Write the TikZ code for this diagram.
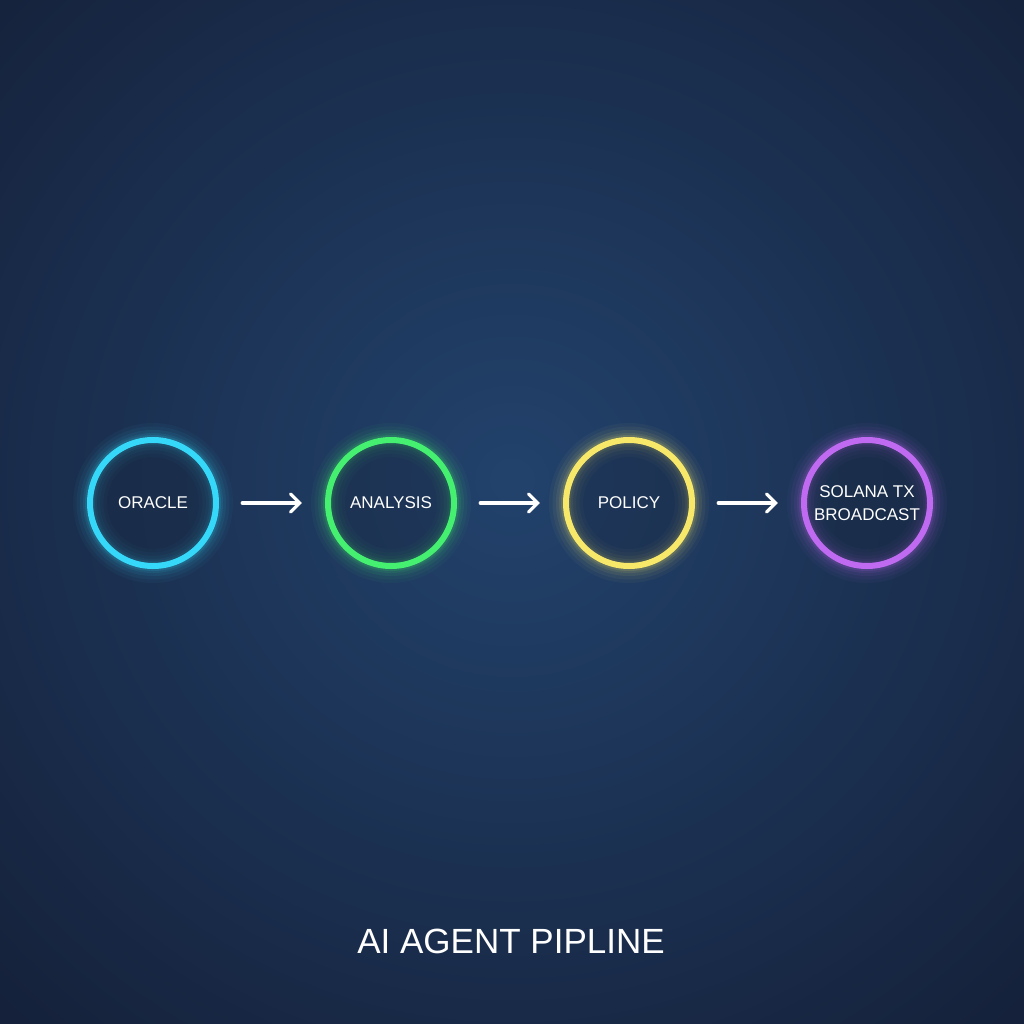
\documentclass[tikz,border=0pt]{standalone}
\usepackage{fontspec}
\setmainfont{Liberation Sans}
\usetikzlibrary{arrows.meta}
\definecolor{bgin}{HTML}{22426C}
\definecolor{bgout}{HTML}{15213A}
\definecolor{cyanc}{HTML}{35D8F8}
\definecolor{greenc}{HTML}{45F070}
\definecolor{yellowc}{HTML}{F8E86A}
\definecolor{purplec}{HTML}{C06AF2}
\definecolor{innerdark}{HTML}{18263C}
\tikzset{
  x=1pt, y=-1pt,
  stage/.style={circle, minimum size=126pt, inner sep=0pt, align=center,
    font=\fontsize{17}{23}\selectfont, text=white},
  flow/.style={draw=white, line width=3.2pt, line cap=round,
    -{Straight Barb[length=9pt,width=18pt,line width=3.2pt,line cap=round]}},
}
\newcommand{\glowring}[2]{%
  \foreach \w/\o in {34/0.04,27/0.05,20/0.07,14/0.09,10/0.13}{
    \draw[#2, line width=\w pt, opacity=\o] (#1) circle[radius=63pt];
  }
  \shade[inner color=innerdark, outer color=innerdark, opacity=0.35] (#1) circle[radius=60pt];
  \draw[#2, line width=6pt] (#1) circle[radius=63pt];
}
\begin{document}
\begin{tikzpicture}
\useasboundingbox (0,0) rectangle (1024,1024);
\shade[inner color=bgin, outer color=bgout] (-230,-250) rectangle (1254,1210);
\coordinate (c1) at (153,503);
\coordinate (c2) at (391,503);
\coordinate (c3) at (629,503);
\coordinate (c4) at (867,503);
\glowring{c1}{cyanc}
\glowring{c2}{greenc}
\glowring{c3}{yellowc}
\glowring{c4}{purplec}
\node[stage] (oracle) at (c1) {ORACLE};
\node[stage] (analysis) at (c2) {ANALYSIS};
\node[stage] (policy) at (c3) {POLICY};
\node[stage] (solana) at (c4) {SOLANA TX\\BROADCAST};
\draw[flow] ([xshift=26pt]oracle.east) -- ([xshift=-26pt]analysis.west);
\draw[flow] ([xshift=26pt]analysis.east) -- ([xshift=-26pt]policy.west);
\draw[flow] ([xshift=26pt]policy.east) -- ([xshift=-26pt]solana.west);
\node[text=white, font=\fontsize{35}{42}\selectfont] (title) at (511,941) {AI AGENT PIPLINE};
\end{tikzpicture}
\end{document}
